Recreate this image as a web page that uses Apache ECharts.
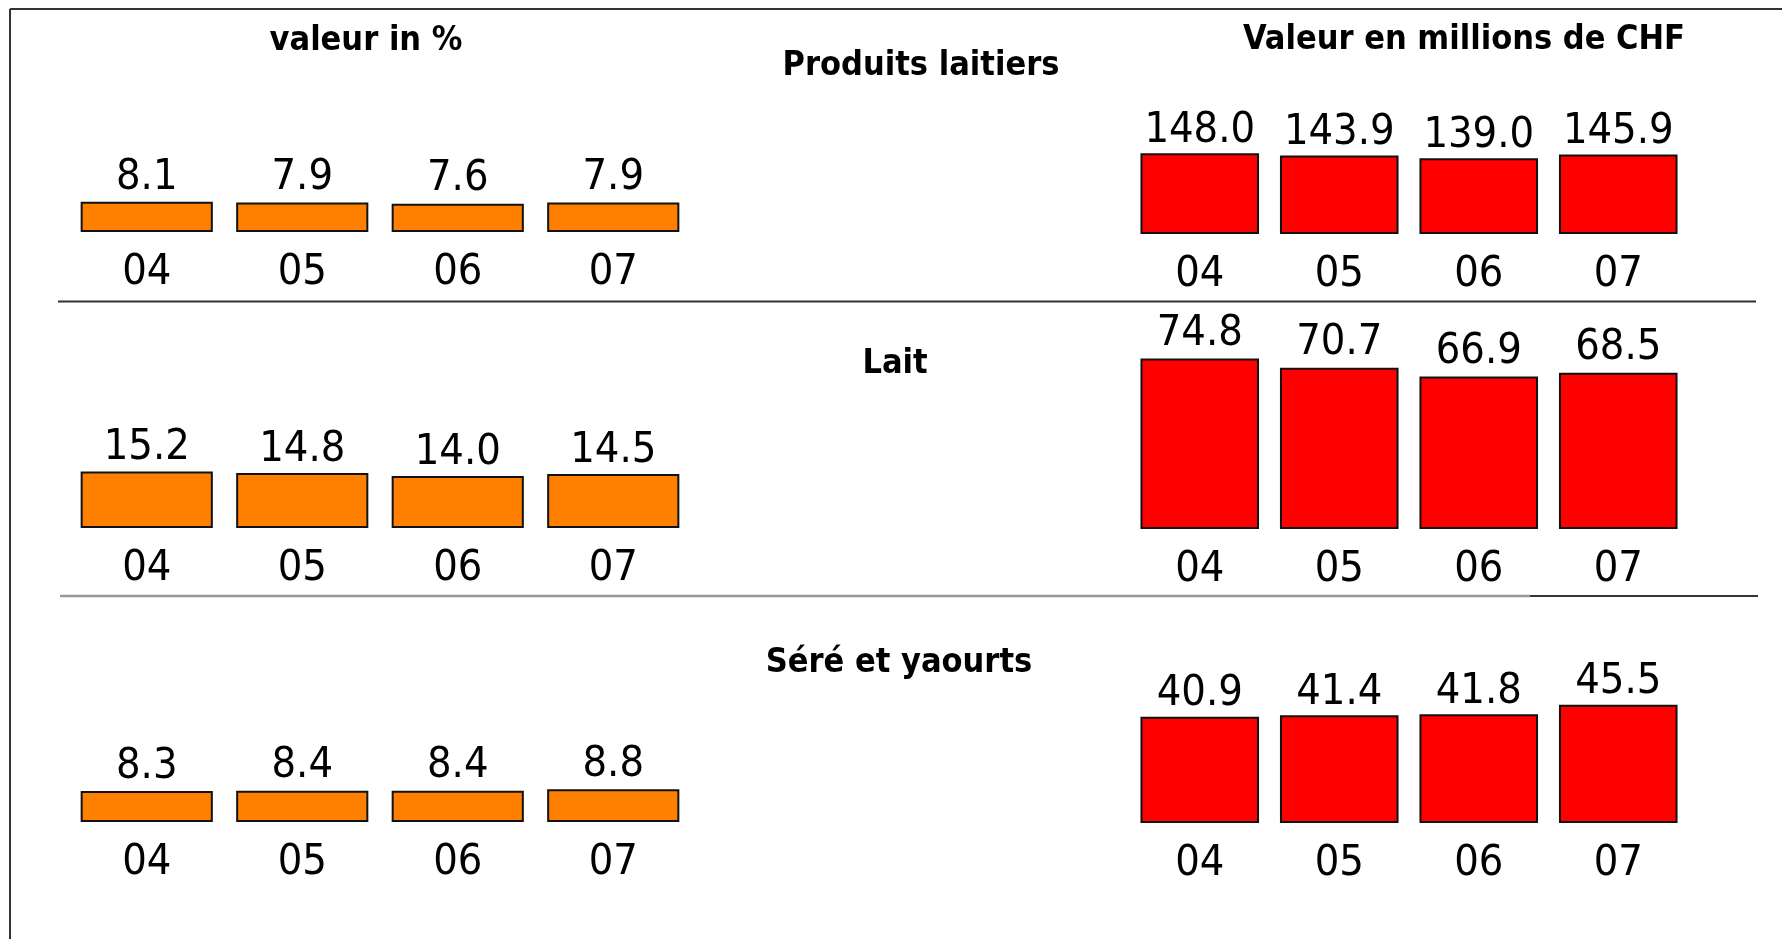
<!DOCTYPE html>
<html>
<head>
<meta charset="utf-8">
<script src="https://cdn.jsdelivr.net/npm/echarts@6/dist/echarts.min.js"></script>
<style>html,body{margin:0;padding:0;background:#fff;}#c{width:1782px;height:939px;}</style>
</head>
<body>
<div id="c"></div>
<script>
const years = ['04', '05', '06', '07'];
const pctProduits = [8.1, 7.9, 7.6, 7.9];
const pctLait = [15.2, 14.8, 14.0, 14.5];
const pctSere = [8.3, 8.4, 8.4, 8.8];
const chfProduits = [148.0, 143.9, 139.0, 145.9];
const chfLait = [74.8, 70.7, 66.9, 68.5];
const chfSere = [40.9, 41.4, 41.8, 45.5];
const sectionTitles = ['Produits laitiers', 'Lait', 'Séré et yaourts'];
const leftHeader = 'valeur in %';
const rightHeader = 'Valeur en millions de CHF';

const FONT = "'DejaVu Sans Condensed', 'Liberation Sans Narrow', 'DejaVu Sans', sans-serif";
const ORANGE = '#FF8000', RED = '#FF0000';

// panel layout: [seriesData, color, gridLeft, gridWidth, baseline, pxPerUnit, axisMax, labelDistance]
const panels = [
  [pctProduits, ORANGE, 69, 622, 232, 3.72, 20, 3],
  [pctLait,     ORANGE, 69, 622, 528, 3.72, 20, 2],
  [pctSere,     ORANGE, 69, 622, 822, 3.72, 20, 3],
  [chfProduits, RED, 1130, 558, 234, 0.545, 200, 1],
  [chfLait,     RED, 1130, 558, 529, 2.28, 100, 3],
  [chfSere,     RED, 1130, 558, 823, 2.6, 60, 1]
];

const grids = [], xAxes = [], yAxes = [], series = [];
panels.forEach((p, i) => {
  const [data, color, left, width, baseline, ppu, max, dist] = p;
  const h = max * ppu;
  grids.push({left: left, width: width, top: baseline - h, height: h});
  xAxes.push({
    type: 'category', gridIndex: i, data: years,
    axisLine: {show: false}, axisTick: {show: false},
    axisLabel: {color: '#000', fontFamily: FONT, fontSize: 43, lineHeight: 43, margin: 19}
  });
  yAxes.push({type: 'value', gridIndex: i, min: 0, max: max, show: false, splitLine: {show: false}});
  series.push({
    type: 'bar', xAxisIndex: i, yAxisIndex: i, data: data, barWidth: '85%',
    itemStyle: {color: color, borderColor: '#111', borderWidth: 2},
    label: {show: true, position: 'top', distance: dist, color: '#000', fontFamily: FONT,
            fontSize: 43, lineHeight: 43, formatter: (d) => d.value.toFixed(1)},
    silent: true, animation: false
  });
});

function txt(x, y, s) {
  return {type: 'text', x: x, y: y, style: {text: s, fill: '#000', font: "bold 34px " + FONT,
          textAlign: 'center', textVerticalAlign: 'middle'}};
}
function ln(x1, y1, x2, y2, c, w) {
  return {type: 'line', shape: {x1: x1, y1: y1, x2: x2, y2: y2}, style: {stroke: c, lineWidth: w}};
}

const chart = echarts.init(document.getElementById('c'));
chart.setOption({
  animation: false,
  grid: grids, xAxis: xAxes, yAxis: yAxes, series: series,
  graphic: [
    ln(10, 9, 1782, 9, '#333', 2),
    ln(10, 9, 10, 939, '#333', 2),
    ln(58, 301.5, 1756, 301.5, '#333', 2),
    ln(60, 596, 1530, 596, '#999', 2.5),
    ln(1530, 596, 1758, 596, '#333', 2),
    txt(366, 41, leftHeader),
    txt(1464, 40, rightHeader),
    txt(921, 66, sectionTitles[0]),
    txt(895, 364, sectionTitles[1]),
    txt(899, 663, sectionTitles[2])
  ]
});
</script>
</body>
</html>
